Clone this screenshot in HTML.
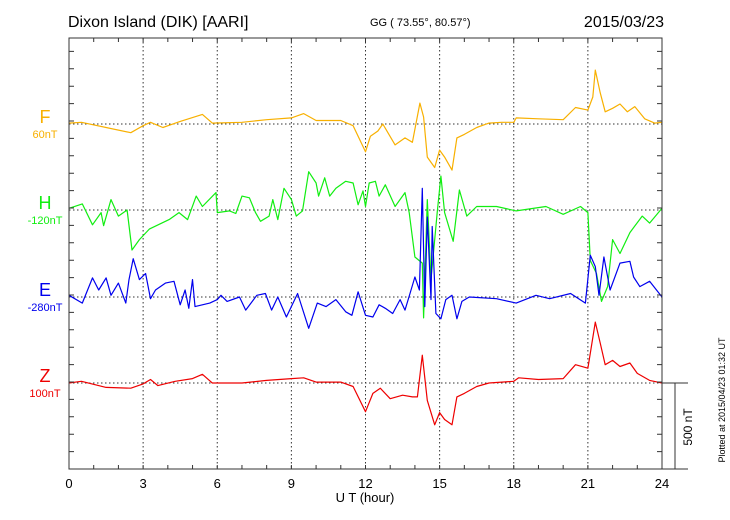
<!DOCTYPE html>
<html><head><meta charset="utf-8"><style>
html,body{margin:0;padding:0;background:#fff;}
svg{display:block;font-family:"Liberation Sans",sans-serif;}
</style></head><body>
<svg id="chart" width="730" height="520" viewBox="0 0 730 520">
<text x="68" y="27" font-size="16">Dixon Island (DIK)  [AARI]</text>
<text x="370" y="26" font-size="11">GG ( 73.55°,  80.57°)</text>
<text x="664" y="27" font-size="16" text-anchor="end">2015/03/23</text>
<text x="365" y="502" font-size="13" text-anchor="middle">U T (hour)</text>
<text transform="translate(725,400) rotate(-90)" font-size="9" text-anchor="middle">Plotted at 2015/04/23 01:32 UT</text>
<text transform="translate(692,427) rotate(-90)" font-size="12" text-anchor="middle">500 nT</text>
<g id="grid"></g><g id="series"></g><g id="frame"></g><g id="labels"></g>
</svg>
<script>
const hourTicks = [0,3,6,9,12,15,18,21,24];
const componentNames = ["F","H","E","Z"];
const componentOffsets = ["60nT","-120nT","-280nT","100nT"];
const componentColors = ["#f8b000","#11ee11","#0000ee","#ee0000"];
const fTimes = [0,0.5,1.5,2.5,3,3.3,3.8,4.5,5.4,5.8,7,8,9,9.5,10,11,11.5,12,12.2,12.5,12.7,13.2,13.6,13.9,14.2,14.35,14.5,14.8,15,15.2,15.5,15.7,16,16.5,17,17.5,18,18.1,19,20,20.5,21,21.2,21.3,21.5,21.7,22,22.3,22.6,22.9,23.3,23.7,24];
const fValues = [5,10,-20,-50,-10,10,-20,15,55,5,10,25,35,60,20,20,-10,-160,-70,-40,0,-120,-80,-105,120,40,-190,-250,-150,-190,-265,-80,-60,-20,5,10,10,35,30,25,95,80,155,310,180,70,90,115,70,100,30,5,10];
const hTimes = [0,0.54,0.95,1.3,1.4,1.7,2.0,2.35,2.55,2.85,3.25,4.05,4.45,4.8,5.15,5.4,5.95,6.0,6.5,6.75,7.0,7.3,7.55,7.75,8.1,8.25,8.45,8.7,9.0,9.2,9.45,9.7,10.0,10.1,10.35,10.55,10.8,11.2,11.5,11.7,11.9,12.0,12.15,12.4,12.55,12.8,13.2,13.6,13.77,14.0,14.3,14.35,14.5,14.65,14.9,15.05,15.2,15.55,15.8,16.1,16.5,17.3,18.1,19.3,20.0,20.7,21.0,21.1,21.35,21.55,21.8,22.0,22.3,22.7,23.2,23.5,24];
const hValues = [10,35,-85,-15,-90,60,-35,0,-230,-170,-110,-55,-15,-55,80,20,100,-15,-5,-20,80,70,-15,-65,-35,60,-55,125,60,-35,-5,220,155,80,185,80,125,165,155,30,110,20,155,165,80,145,20,100,-15,-270,-305,-620,60,-400,-15,195,-15,-180,115,-35,20,20,-5,20,-25,20,-15,-290,-365,-525,-440,-170,-250,-130,-35,-75,10];
const eTimes = [0,0.54,0.95,1.2,1.5,1.7,2.0,2.3,2.43,2.6,2.85,3.1,3.3,3.5,3.9,4.25,4.5,4.7,4.85,5.0,5.1,5.7,6.0,6.15,6.4,6.9,7.15,7.6,7.95,8.2,8.45,8.8,9.25,9.7,10.05,10.4,10.8,11.2,11.45,11.7,12.0,12.3,12.55,12.8,13.1,13.4,13.6,13.8,14.0,14.18,14.3,14.4,14.5,14.65,14.7,14.85,15.05,15.25,15.5,15.7,15.9,16.2,17.3,18.1,18.9,19.45,20.3,20.9,21.1,21.3,21.45,21.65,21.9,22.3,22.7,22.85,23.1,23.5,24];
const eValues = [10,-35,110,40,110,10,80,-35,100,220,100,135,-10,40,80,90,-45,40,-65,100,-55,-35,-15,10,-25,0,-75,10,20,-75,0,-115,20,-180,-35,-55,-15,-85,-105,30,-105,-115,-45,-65,-95,-15,-75,20,115,40,625,-55,460,-15,405,-95,-125,-15,10,-125,-25,0,-10,-35,10,-10,20,-35,240,175,10,230,40,195,205,115,60,90,0];
const zTimes = [0,0.5,1.5,2.5,3,3.3,3.6,4.3,5,5.4,5.8,7,8,9,9.5,10,11,11.5,12,12.3,12.6,13,13.5,13.9,14.1,14.3,14.5,14.8,15,15.2,15.5,15.7,16,16.5,17,18,18.2,19,20,20.5,21,21.3,21.5,21.7,22,22.3,22.7,23,23.5,24];
const zValues = [0,10,-25,-30,-5,20,-15,10,25,50,0,0,15,25,30,5,5,-20,-165,-60,-30,-90,-70,-80,-80,160,-100,-240,-170,-210,-240,-80,-60,-20,0,10,30,20,25,105,85,350,230,105,130,95,115,55,15,0];

const NS="http://www.w3.org/2000/svg";
const X0=69,X1=662,Y0=38,Y1=469,PXNT=87/500;
const bases=[124,210,297,383];
const xs=h=>X0+(X1-X0)*h/24;
const ys=(i,v)=>bases[i]-v*PXNT;
function mk(tag,attrs,parent){const e=document.createElementNS(NS,tag);for(const k in attrs)e.setAttribute(k,attrs[k]);parent.appendChild(e);return e;}
const grid=document.getElementById('grid'),series=document.getElementById('series'),frame=document.getElementById('frame'),labels=document.getElementById('labels');
hourTicks.forEach(h=>{
  if(h>0&&h<24){const l=mk('line',{x1:xs(h),x2:xs(h),y1:Y0,y2:Y1,stroke:'#333','stroke-width':1,'stroke-dasharray':'1.5,2.5'},grid);
  
  }
  const t=mk('text',{x:xs(h),y:488,'font-size':13,'text-anchor':'middle'},labels);
  
  
  t.textContent=h;
});
bases.forEach((b,i)=>{const l=mk('line',{x1:X0,x2:X1,y1:b,y2:b,stroke:'#333','stroke-width':1,'stroke-dasharray':'1.5,2.5'},grid);
  
  
  const n=mk('text',{x:45,y:b-1,'font-size':18,'text-anchor':'middle',fill:componentColors[i]},labels);
  
  
  n.textContent=componentNames[i];
  const o=mk('text',{x:45,y:b+14,'font-size':11,'text-anchor':'middle',fill:componentColors[i]},labels);
  
  
  o.textContent=componentOffsets[i];
});
const allT=[fTimes,hTimes,eTimes,zTimes],allV=[fValues,hValues,eValues,zValues];
[0,3,1,2].forEach(i=>{
  const d=allT[i].map((t,k)=>(k?'L':'M')+xs(t).toFixed(1)+','+ys(i,allV[i][k]).toFixed(1)).join('');
  const p=mk('path',{d:d,fill:'none',stroke:componentColors[i],'stroke-width':1.2,'stroke-linejoin':'round'},series);
  
  
});
const r=mk('rect',{x:X0,y:Y0,width:X1-X0,height:Y1-Y0,fill:'none',stroke:'#333','stroke-width':1},frame);


let tk='';
for(let h=0;h<=24;h++){tk+=`M${xs(h)},${Y0}v4M${xs(h)},${Y1}v-4`;}
for(let y=Y1;y>=Y0;y-=17.4){tk+=`M${X0},${y}h5M${X1},${y}h-5`;}
tk+=`M${X1},383h26M675,383V${Y1}M${X1},${Y1}h26`;
const ticks=mk('path',{d:tk,stroke:'#333','stroke-width':1,fill:'none'},frame);


</script>
</body></html>
